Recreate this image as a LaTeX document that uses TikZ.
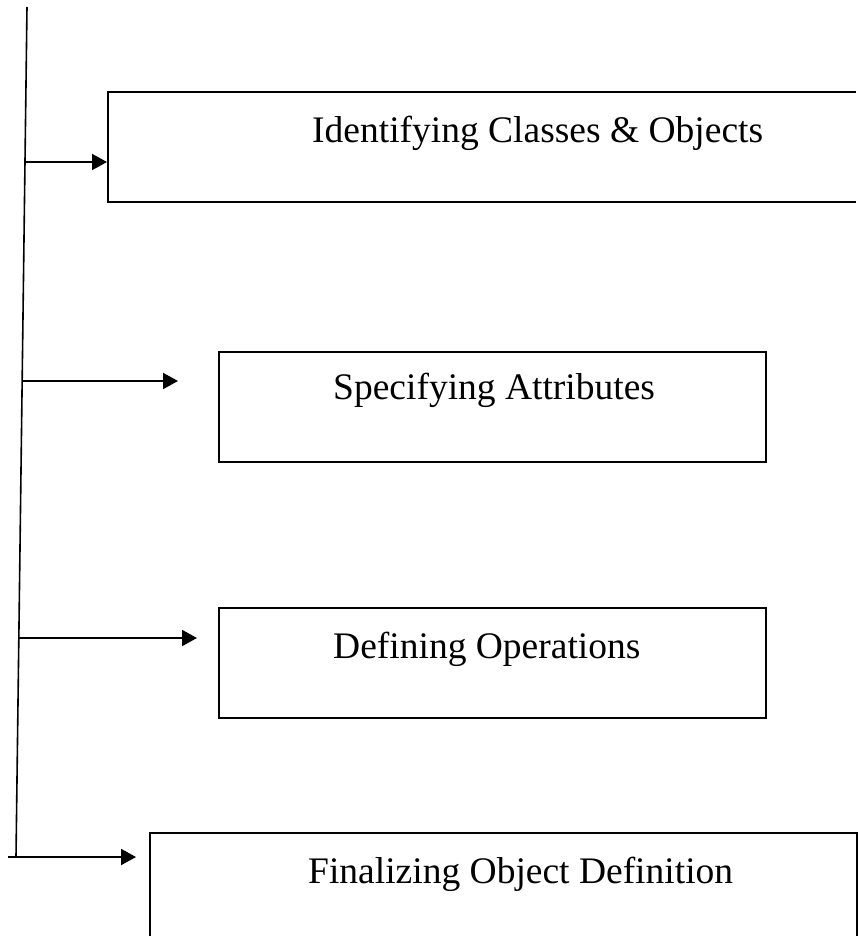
\documentclass[tikz,border=0pt]{standalone}
\usepackage{fontspec}
\setmainfont{Liberation Serif}
\usetikzlibrary{arrows.meta}
\begin{document}
\begin{tikzpicture}[x=1pt,y=-1pt,
  stepbox/.style={draw=black,line width=2pt,rectangle,anchor=north west,inner sep=0pt},
  openbox/.style={rectangle,anchor=north west,inner sep=0pt,outer sep=0pt},
  edge/.style={draw=black,line width=2pt},
  lbl/.style={anchor=base west,inner sep=0pt,font=\fontsize{37.5}{44}\selectfont},
  link/.style={line width=2pt,-{Triangle[length=15pt,width=16pt]}},
  trunk/.style={line width=1.6pt}]
\useasboundingbox (0,0) rectangle (859,936);
% boxes
\node[openbox,minimum width=748pt,minimum height=110pt] (b1) at (108,92) {};
\draw[edge] (b1.north east) -- (b1.north west) -- (b1.south west) -- (b1.south east);
\node[stepbox,minimum width=547pt,minimum height=110pt] (b2) at (218,351) {};
\node[stepbox,minimum width=547pt,minimum height=110pt] (b3) at (218,607) {};
\node[openbox,minimum width=707pt,minimum height=110pt] (b4) at (150,833) {};
\draw[edge] (b4.south west) -- (b4.north west) -- (b4.north east) -- (b4.south east);
% texts
\node[lbl] (t1) at (312,143) {Identifying Classes \& Objects};
\node[lbl] (t2) at (333,399) {Specifying Attributes};
\node[lbl] (t3) at (333,658) {Defining Operations};
\node[lbl] (t4) at (308,883) {Finalizing Object Definition};
% trunk
\coordinate (top) at (27,7);
\coordinate (bot) at (16,857);
\draw[trunk] (top) -- (bot);
% arrow starts and tips
\coordinate (s1) at (25,162);
\coordinate (e1) at (107,162);
\coordinate (s2) at (22,381);
\coordinate (e2) at (178,381);
\coordinate (s3) at (18.5,638);
\coordinate (e3) at (197,638);
\coordinate (s4) at (8,857);
\coordinate (e4) at (136,857);
\draw[link] (s1) -- (e1);
\draw[link] (s2) -- (e2);
\draw[link] (s3) -- (e3);
\draw[link] (s4) -- (e4);
\end{tikzpicture}
\end{document}
